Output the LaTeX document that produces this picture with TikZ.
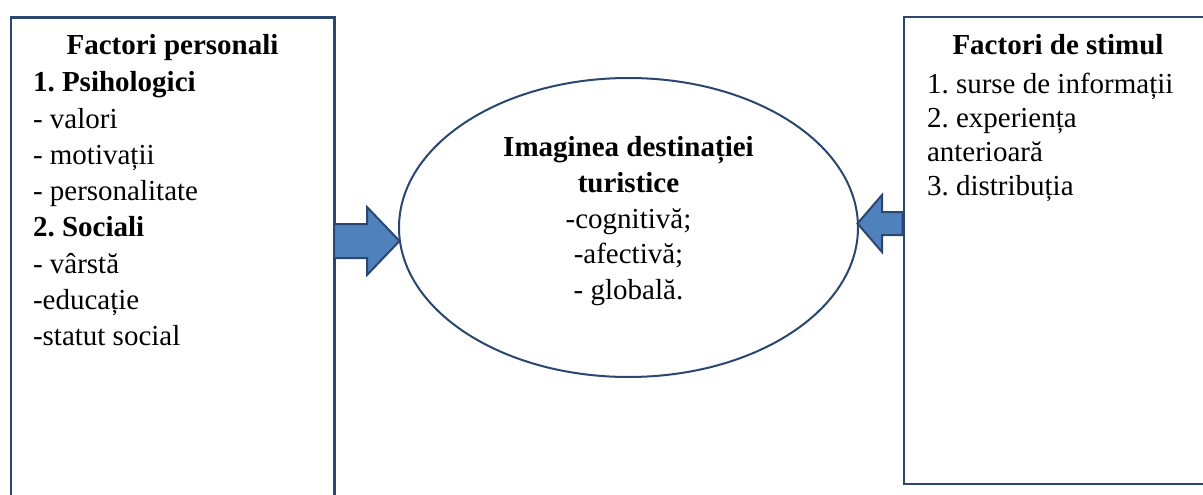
\documentclass[tikz,border=0pt]{standalone}
\usepackage{fontspec}
\setmainfont{Liberation Serif}
\frenchspacing
\usetikzlibrary{shapes.geometric}
\definecolor{frameblue}{HTML}{2B4770}
\definecolor{arrowblue}{HTML}{4F81BD}
\begin{document}
\begin{tikzpicture}[x=1pt,y=-1pt,
  txt/.style={font=\fontsize{29}{36}\selectfont, inner sep=0pt, outer sep=0pt},
  frame/.style={draw=frameblue, line width=2.6pt},
  blockarrow/.style={fill=arrowblue, draw=frameblue, line width=2pt, line join=miter}]
\useasboundingbox (0,0) rectangle (1203,495);
\clip (0,0) rectangle (1203,495);
\fill[white] (0,0) rectangle (1203,495);

% left panel: open at the bottom
\node[minimum width=323pt, minimum height=492pt, inner sep=0pt] (lbox) at (172.5,264) {};
\draw[frame] (lbox.south west) -- (lbox.north west) -- (lbox.north east) -- (lbox.south east);

% right panel
\node[frame, minimum width=308pt, minimum height=467pt, inner sep=0pt] (rbox) at (1058,250.5) {};

% central ellipse
\node[ellipse, draw=frameblue, line width=2pt, minimum width=459pt, minimum height=299pt, inner sep=0pt] (img) at (628.5,227.5) {};

% block arrows pointing at the ellipse
\coordinate (ltip) at (399.5,241);
\coordinate (rtip) at (857.5,223.5);
\draw[blockarrow] (lbox.east |- 0,224) -- (367,224) -- (367,207) -- (ltip) -- (367,275) -- (367,258) -- (lbox.east |- 0,258) -- cycle;
\draw[blockarrow] (rbox.west |- 0,212) -- (882,212) -- (882,195) -- (rtip) -- (882,252) -- (882,235) -- (rbox.west |- 0,235) -- cycle;

% left panel text
\node[txt, font=\fontsize{29}{36}\selectfont\bfseries, anchor=base] (ltitle) at (lbox.center |- 0,55) {Factori personali};
\foreach \t [count=\i] in {\textbf{1. Psihologici}, - valori, - motivații, - personalitate, \textbf{2. Sociali}, - vârstă, -educație, -statut social}
  \node[txt, anchor=base west] (lline\i) at (33,{92+36.2*(\i-1)}) {\t};

% right panel text
\node[txt, font=\fontsize{29}{36}\selectfont\bfseries, anchor=base] (rtitle) at (1058,55) {Factori de stimul};
\foreach \t [count=\i] in {1. surse de informații, 2. experiența, anterioară, 3. distribuția}
  \node[txt, anchor=base west] (rline\i) at (927,{93+34*(\i-1)}) {\t};

% ellipse text
\foreach \t [count=\i] in {\textbf{Imaginea destinației}, \textbf{turistice}, -cognitivă;, -afectivă;, - globală.}
  \node[txt, anchor=base] (eline\i) at (628.5,{157+35.5*(\i-1)}) {\t};
\end{tikzpicture}
\end{document}
